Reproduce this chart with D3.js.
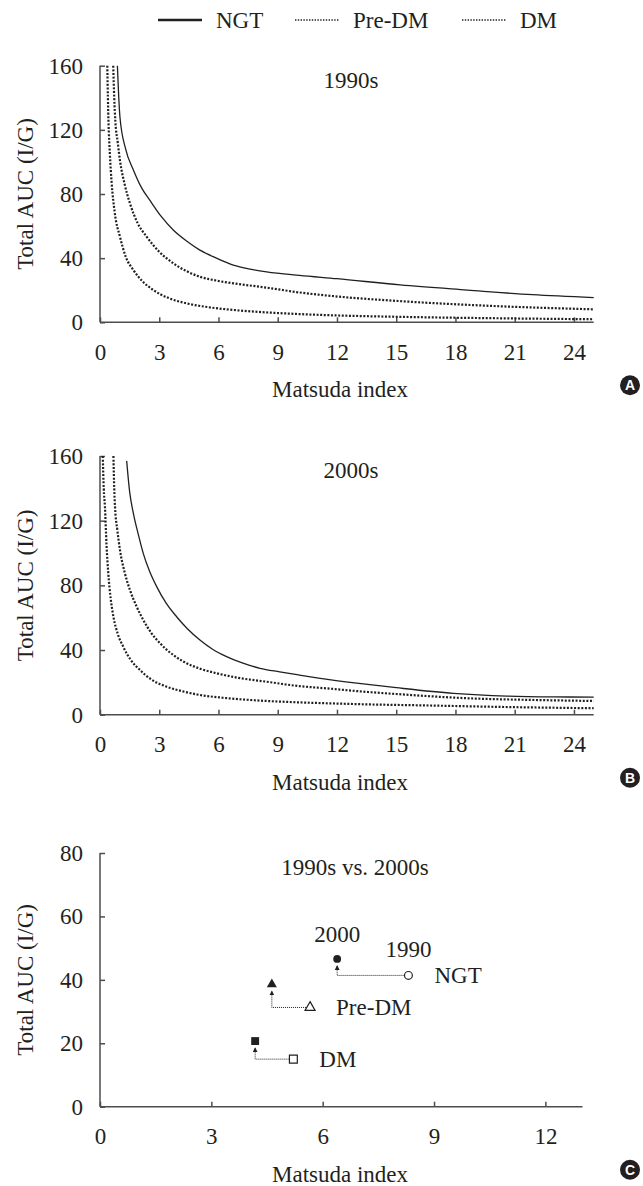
<!doctype html>
<html lang="en">
<head>
    <meta charset="UTF-8">
    <title>Matsuda index vs Total AUC</title>
    <style>
        body { margin: 0; background: #fff; }
        svg { display: block; }
        .axis path, .axis line { stroke: #4d4d4d; stroke-width: 1.5px; }
        .curve { fill: none; stroke: #231f20; }
    </style>
</head>
<body>
<svg width="643" height="1186"></svg>
<script src="https://cdn.jsdelivr.net/npm/d3@7"></script>
<script>
    // series names and legend
    const groups = ["NGT", "Pre-DM", "DM"];

    // tick values
    const curveXTicks = [0, 3, 6, 9, 12, 15, 18, 21, 24];
    const curveYTicks = [0, 40, 80, 120, 160];
    const scatterXTicks = [0, 3, 6, 9, 12];
    const scatterYTicks = [0, 20, 40, 60, 80];

    // panel A, 1990s: [Matsuda index, Total AUC (I/G)]
    const ngt1990 = [[0.88,160],[0.95,140],[1.01,128],[1.3,108],[1.69,95],[2.1,84],[2.53,76],[3.1,66],[3.71,57.5],
        [4.4,50.5],[5.06,45],[5.9,40],[6.75,35.7],[7.6,33.2],[8.44,31.5],[10.1,29.3],[12,27.2],[15.2,23.3],
        [18.6,20.1],[21.9,17.2],[25,15.4]];
    const pre1990 = [[0.67,160],[0.72,140],[0.78,125],[0.9,112],[1.01,101],[1.25,86],[1.52,74],[1.9,62],[2.36,53.4],
        [3,44],[3.71,36.8],[4.4,31.8],[5.06,28.4],[5.9,26],[6.75,24.3],[8.44,21.6],[10.1,18.6],[11.65,16.5],
        [15.2,13.2],[20.25,10],[25,8.1]];
    const dm1990 = [[0.37,160],[0.4,140],[0.43,125],[0.5,105],[0.59,87],[0.75,68],[1.01,53.4],[1.3,41],[1.69,32.6],
        [2.2,25],[2.7,20.1],[3.5,15],[4.39,11.8],[5.5,9.4],[6.75,7.7],[8,6.5],[9.28,5.6],[11.65,4.4],
        [15.2,3.4],[20.25,2.5],[25,1.9]];

    // panel B, 2000s
    const ngt2000 = [[1.35,157],[1.5,138],[1.69,124.5],[1.95,111],[2.19,99.8],[2.5,89],[2.87,79.2],[3.35,69],[3.88,60.6],
        [4.4,53.5],[5.06,46.2],[5.7,40.5],[6.41,35.9],[7.2,32],[8.1,28.7],[9.1,26.5],[10.1,24.5],[11.15,22.5],
        [13,19.5],[15,16.7],[17.9,13.2],[20.6,11.5],[23,11],[25,10.9]];
    const pre2000 = [[0.68,160],[0.72,140],[0.76,128.6],[0.88,114],[1.01,101.9],[1.25,88],[1.52,77],[1.85,67],[2.19,58.6],
        [2.6,50.5],[3.04,44.2],[3.7,37],[4.39,31.8],[5.1,28.3],[5.91,25.6],[7,22.8],[8.44,20.4],[10,17.8],
        [11.65,16.1],[13,14.6],[15,12.8],[18.75,10.1],[22,9.1],[25,8.5]];
    const dm2000 = [[0.14,160],[0.19,140],[0.25,128.6],[0.33,105],[0.42,87.4],[0.54,72],[0.68,60.6],[0.9,50],[1.18,42],
        [1.55,34],[2.03,27.6],[2.6,21.8],[3.38,17.3],[4.2,14.4],[5.06,12.2],[6.2,10.5],[7.6,9.1],[9.5,7.9],
        [11.15,7.2],[13.5,6.4],[16.2,5.8],[21.3,4.6],[25,4]];

    // panel C, mean points per group
    const matsuda1990 = [8.31, 5.66, 5.21];
    const auc1990 = [41.4, 31.3, 15.0];
    const matsuda2000 = [6.39, 4.63, 4.18];
    const auc2000 = [46.6, 38.6, 20.7];

    const svg = d3.select("svg");
    const left = 100;
    const serif = '"Liberation Serif", "Times New Roman", serif';
    const fs = "23px";
    const dotted = "2,1.6";

    function label(sel) {
        return sel.style("font-family", serif).style("font-size", fs).style("fill", "#231f20");
    }

    // legend
    const legendX = [158, 295, 462];
    const leg = svg.append("g");
    groups.forEach((name, i) => {
        leg.append("line")
            .attr("x1", legendX[i]).attr("x2", legendX[i] + 44)
            .attr("y1", 20).attr("y2", 20)
            .attr("stroke", "#231f20")
            .attr("stroke-width", i === 0 ? 2.5 : 1.6)
            .attr("stroke-dasharray", i === 0 ? null : "1.4,1.4");
        leg.append("text")
            .attr("x", legendX[i] + 58).attr("y", 28)
            .text(name)
            .call(label);
    });

    function badge(letter, cy) {
        const b = svg.append("g");
        b.append("circle").attr("cx", 630).attr("cy", cy).attr("r", 10).attr("fill", "#231f20");
        b.append("text").attr("x", 630).attr("y", cy).attr("dy", "0.36em")
            .attr("text-anchor", "middle")
            .style("font-family", '"Liberation Sans", Arial, sans-serif')
            .style("font-weight", "bold").style("font-size", "14px").style("fill", "#fff")
            .text(letter);
    }

    function frame(opts) {
        const x = d3.scaleLinear().domain(opts.xDomain).range([left, opts.right]);
        const y = d3.scaleLinear().domain(opts.yDomain).range([opts.bottom, opts.top]);
        const g = svg.append("g");

        g.append("g").attr("class", "axis")
            .attr("transform", "translate(0," + opts.bottom + ")")
            .call(d3.axisBottom(x).tickValues(opts.xTicks).tickSize(-5).tickSizeOuter(0).tickPadding(21))
            .call(a => a.select(".domain").attr("d", "M" + left + ",0H" + opts.right));

        g.append("g").attr("class", "axis")
            .attr("transform", "translate(" + left + ",0)")
            .call(d3.axisLeft(y).tickValues(opts.yTicks).tickSize(-5).tickSizeOuter(0).tickPadding(17))
            .call(a => a.select(".domain").attr("d", "M0," + opts.top + "V" + opts.bottom));

        g.selectAll(".axis text").call(label);

        g.append("text")
            .attr("transform", "translate(33," + ((opts.top + opts.bottom) / 2) + ") rotate(-90)")
            .attr("text-anchor", "middle")
            .text("Total AUC (I/G)")
            .call(label);

        g.append("text")
            .attr("x", 340).attr("y", opts.bottom + 75)
            .attr("text-anchor", "middle")
            .text("Matsuda index")
            .call(label);

        g.append("text")
            .attr("x", opts.titleX).attr("y", opts.top + 22)
            .attr("text-anchor", "middle")
            .text(opts.title)
            .call(label);

        badge(opts.letter, opts.bottom + 63);
        return {g, x, y};
    }

    function curves(p, series) {
        const line = d3.line()
            .x(d => p.x(d[0]))
            .y(d => p.y(d[1]))
            .curve(d3.curveMonotoneX);
        series.forEach((s, i) => {
            p.g.append("path")
                .attr("class", "curve")
                .attr("d", line(s))
                .attr("stroke-width", i === 0 ? 1.3 : 2.2)
                .attr("stroke-dasharray", i === 0 ? null : dotted);
        });
    }

    const pA = frame({xDomain: [0, 25], yDomain: [0, 160], right: 593.7, top: 65.7, bottom: 322.3,
        xTicks: curveXTicks, yTicks: curveYTicks, title: "1990s", titleX: 351, letter: "A"});
    curves(pA, [ngt1990, pre1990, dm1990]);

    const pB = frame({xDomain: [0, 25], yDomain: [0, 160], right: 593.7, top: 456, bottom: 714.7,
        xTicks: curveXTicks, yTicks: curveYTicks, title: "2000s", titleX: 351, letter: "B"});
    curves(pB, [ngt2000, pre2000, dm2000]);

    const pC = frame({xDomain: [0, 13], yDomain: [0, 80], right: 582.5, top: 853, bottom: 1106.7,
        xTicks: scatterXTicks, yTicks: scatterYTicks, title: "1990s vs. 2000s", titleX: 355, letter: "C"});

    // arrow head for the 1990 -> 2000 connectors
    svg.append("defs").append("marker")
        .attr("id", "arrow")
        .attr("viewBox", "0 0 6 6")
        .attr("refX", 5).attr("refY", 3)
        .attr("markerWidth", 5).attr("markerHeight", 5)
        .attr("markerUnits", "userSpaceOnUse")
        .attr("orient", "auto")
        .append("path").attr("d", "M0,0L6,3L0,6Z").attr("fill", "#231f20");

    const symbols = [d3.symbolCircle, d3.symbolTriangle, d3.symbolSquare];
    const symSize = [48, 44, 62];

    groups.forEach((name, i) => {
        const x0 = pC.x(matsuda1990[i]), y0 = pC.y(auc1990[i]);
        const x1 = pC.x(matsuda2000[i]), y1 = pC.y(auc2000[i]);

        pC.g.append("path")
            .attr("d", "M" + x0 + "," + y0 + "H" + x1 + "V" + (y1 + 7))
            .attr("fill", "none")
            .attr("stroke", "#231f20")
            .attr("stroke-width", 1)
            .attr("stroke-dasharray", "1,1")
            .attr("marker-end", "url(#arrow)");

        const sym = d3.symbol().type(symbols[i]).size(symSize[i]);
        pC.g.append("path")
            .attr("transform", "translate(" + x0 + "," + y0 + ")")
            .attr("d", sym())
            .attr("fill", "#fff")
            .attr("stroke", "#231f20")
            .attr("stroke-width", 1.2);
        pC.g.append("path")
            .attr("transform", "translate(" + x1 + "," + y1 + ")")
            .attr("d", sym())
            .attr("fill", "#231f20");

        pC.g.append("text")
            .attr("x", x0 + 26).attr("y", y0).attr("dy", "0.33em")
            .text(name)
            .call(label);

        if (i === 0) {
            pC.g.append("text")
                .attr("x", x1).attr("y", y1 - 17)
                .attr("text-anchor", "middle")
                .text("2000")
                .call(label);
            pC.g.append("text")
                .attr("x", x0).attr("y", y0 - 18)
                .attr("text-anchor", "middle")
                .text("1990")
                .call(label);
        }
    });
</script>
</body>
</html>
